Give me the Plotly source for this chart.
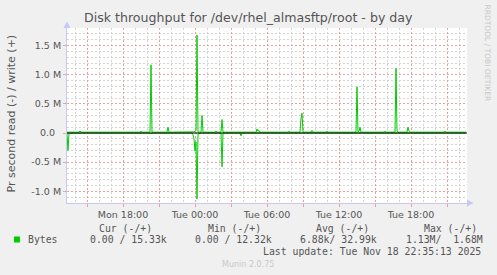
import plotly.graph_objects as go

# ---- data (bytes per second) ----
times = [
    "2025-11-17 13:20", "2025-11-17 13:25", "2025-11-17 13:30",
    "2025-11-17 14:20", "2025-11-17 14:25", "2025-11-17 14:30",
    "2025-11-17 19:25", "2025-11-17 19:30", "2025-11-17 19:35",
    "2025-11-17 20:15", "2025-11-17 20:20", "2025-11-17 20:25",
    "2025-11-17 21:40", "2025-11-17 21:45", "2025-11-17 21:50",
    "2025-11-17 23:45", "2025-11-17 23:50", "2025-11-17 23:55",
    "2025-11-18 00:00", "2025-11-18 00:05", "2025-11-18 00:10", "2025-11-18 00:15",
    "2025-11-18 00:30", "2025-11-18 00:35", "2025-11-18 00:40",
    "2025-11-18 01:40", "2025-11-18 01:45", "2025-11-18 01:50",
    "2025-11-18 02:10", "2025-11-18 02:15", "2025-11-18 02:20",
    "2025-11-18 03:45", "2025-11-18 03:50", "2025-11-18 03:55",
    "2025-11-18 05:05", "2025-11-18 05:10", "2025-11-18 05:15", "2025-11-18 05:20", "2025-11-18 05:25",
    "2025-11-18 07:45", "2025-11-18 07:50", "2025-11-18 07:55",
    "2025-11-18 08:45", "2025-11-18 08:50", "2025-11-18 08:55", "2025-11-18 09:00",
    "2025-11-18 09:40", "2025-11-18 09:45", "2025-11-18 09:50",
    "2025-11-18 10:55", "2025-11-18 11:00", "2025-11-18 11:05",
    "2025-11-18 13:25", "2025-11-18 13:30", "2025-11-18 13:35", "2025-11-18 13:40",
    "2025-11-18 13:45", "2025-11-18 13:50",
    "2025-11-18 15:45", "2025-11-18 15:50", "2025-11-18 15:55",
    "2025-11-18 16:40", "2025-11-18 16:45", "2025-11-18 16:50", "2025-11-18 16:55",
    "2025-11-18 17:40", "2025-11-18 17:45", "2025-11-18 17:50", "2025-11-18 17:55",
    "2025-11-18 20:45", "2025-11-18 20:50", "2025-11-18 20:55",
    "2025-11-18 22:35",
]
write_bytes = [
    15e3, 15e3, 15e3,
    15e3, 35e3, 15e3,
    15e3, 30e3, 15e3,
    15e3, 1.17e6, 15e3,
    15e3, 100e3, 15e3,
    15e3, 15e3, 20e3,
    30e3, 40e3, 1.68e6, 15e3,
    15e3, 300e3, 15e3,
    15e3, 30e3, 15e3,
    15e3, 230e3, 15e3,
    15e3, 15e3, 15e3,
    15e3, 70e3, 30e3, 45e3, 15e3,
    15e3, 30e3, 15e3,
    15e3, 250e3, 340e3, 15e3,
    15e3, 45e3, 15e3,
    15e3, 30e3, 15e3,
    15e3, 790e3, 20e3, 30e3,
    100e3, 15e3,
    15e3, 30e3, 15e3,
    15e3, 1.11e6, 30e3, 15e3,
    15e3, 100e3, 30e3, 15e3,
    15e3, 30e3, 15e3,
    15e3,
]
read_bytes = [
    5e3, 300e3, 5e3,
    0, 0, 0,
    0, 0, 0,
    0, 15e3, 0,
    0, 0, 0,
    0, 30e3, 100e3,
    310e3, 150e3, 1.13e6, 20e3,
    0, 0, 0,
    0, 0, 0,
    0, 580e3, 0,
    0, 50e3, 0,
    0, 0, 0, 0, 0,
    0, 0, 0,
    0, 0, 0, 0,
    0, 0, 0,
    0, 0, 0,
    0, 0, 0, 0,
    0, 0,
    0, 0, 0,
    0, 0, 0, 0,
    0, 0, 0, 0,
    0, 0, 0,
    0,
]

x_tickvals = ["2025-11-17 15:00", "2025-11-17 18:00", "2025-11-17 21:00",
              "2025-11-18 00:00", "2025-11-18 03:00", "2025-11-18 06:00",
              "2025-11-18 09:00", "2025-11-18 12:00", "2025-11-18 15:00",
              "2025-11-18 18:00", "2025-11-18 21:00"]
x_ticktext = ["", "Mon 18:00", "", "Tue 00:00", "", "Tue 06:00", "",
              "Tue 12:00", "", "Tue 18:00", ""]
y_tickvals = [-1.0e6, -0.5e6, 0, 0.5e6, 1.0e6, 1.5e6]
y_ticktext = ["-1.0 M", "-0.5 M", "0.0\u00a0\u00a0", "0.5 M", "1.0 M", "1.5 M"]

title_text = "Disk throughput for /dev/rhel_almasftp/root - by day"
y_title = "Pr second read (-) / write (+)"
series_name = "Bytes"
legend_headers = ["Cur (-/+)", "Min (-/+)", "Avg (-/+)", "Max (-/+)"]
legend_values = ["0.00 / 15.33k", "0.00 / 12.32k", "6.88k/ 32.99k", "1.13M/  1.68M"]
last_update = "Last update: Tue Nov 18 22:35:13 2025"
munin_version = "Munin 2.0.75"
rrd_credit = "RRDTOOL / TOBI OETIKER"

# ---- layout constants (pixels) ----
W, H = 497, 275
L, R, T, B = 67, 467, 28, 203
GREEN = "#00cc00"
TXT = "#555555"
MAJOR = "#eaa0a0"
MINOR = "#d4d4d4"
AXIS = "#c8c8f8"


def px(x):
    return (x - L) / (R - L)


def py(y):
    return (B - y) / (B - T)


def ann(text, x, y, size, color=TXT, family="DejaVu Sans", xanchor="left", angle=0):
    return dict(text=text.replace(" ", "\u00a0"), x=px(x), y=py(y), xref="paper", yref="paper",
                showarrow=False, xanchor=xanchor, yanchor="middle", textangle=angle,
                borderpad=0, font=dict(family=family, size=size, color=color))


fig = go.Figure()
fig.add_trace(go.Scatter(x=times, y=[-v for v in read_bytes], mode="lines",
                         line=dict(color=GREEN, width=1), showlegend=False, hoverinfo="skip"))
fig.add_trace(go.Scatter(x=times, y=write_bytes, mode="lines",
                         line=dict(color=GREEN, width=1), showlegend=False, hoverinfo="skip"))

annotations = [
    ann(title_text, 248, 18, 12.6, xanchor="center"),
    ann(y_title, 11, 113.5, 11, xanchor="center", angle=-90),
    ann(rrd_credit, 487.5, 53, 7.5, color="#c8c8c8", xanchor="center", angle=90),
    ann(series_name, 26.5, 239.5, 9.8, family="DejaVu Sans Mono"),
    ann(last_update, 261.5, 251.5, 9.8, family="DejaVu Sans Mono"),
    ann(munin_version, 248, 264.5, 8, color="#c8c8c8", xanchor="center"),
]
header_x = [98, 206.5, 315, 422.5]
value_x = [89, 194, 299, 405]
for h, hx in zip(legend_headers, header_x):
    annotations.append(ann(h, hx, 228, 9.8, family="DejaVu Sans Mono"))
for v, vx in zip(legend_values, value_x):
    annotations.append(ann(v, vx, 239.5, 9.8, family="DejaVu Sans Mono"))

shapes = [
    # zero rule
    dict(type="line", xref="paper", yref="y", x0=0, x1=1, y0=0, y1=0,
         line=dict(color="black", width=1), layer="above"),
    # legend colour box
    dict(type="rect", xref="paper", yref="paper", x0=px(14), x1=px(20), y0=py(242.5), y1=py(236.5),
         fillcolor=GREEN, line=dict(width=0)),
    # axis arrows
    dict(type="path", xref="paper", yref="paper",
         path=f"M {px(467)} {py(199.5)} L {px(473.5)} {py(203)} L {px(467)} {py(206.5)} Z",
         fillcolor=AXIS, line=dict(width=0)),
    dict(type="path", xref="paper", yref="paper",
         path=f"M {px(63.5)} {py(28)} L {px(67)} {py(21.5)} L {px(70.5)} {py(28)} Z",
         fillcolor=AXIS, line=dict(width=0)),
]

fig.update_layout(
    width=W, height=H, autosize=False,
    margin=dict(l=L, r=W - R, t=T, b=H - B, pad=0),
    paper_bgcolor="#f0f0f0", plot_bgcolor="white",
    showlegend=False,
    annotations=annotations, shapes=shapes,
    xaxis=dict(
        type="date", range=["2025-11-17 13:20", "2025-11-18 22:40"],
        tickmode="array", tickvals=x_tickvals, ticktext=x_ticktext,
        showgrid=True, gridcolor=MAJOR, griddash="2px,2px", gridwidth=1,
        ticks="outside", ticklen=3, tickcolor=MAJOR,
        showline=True, linecolor=AXIS, linewidth=1,
        zeroline=False,
        tickfont=dict(family="DejaVu Sans", size=9.5, color=TXT),
        minor=dict(tick0="2025-11-17 00:00", dtick=3600000, showgrid=True,
                   gridcolor=MINOR, griddash="2px,2px", gridwidth=1),
        fixedrange=True,
    ),
    yaxis=dict(
        range=[-1.2e6, 1.8e6],
        tickmode="array", tickvals=y_tickvals, ticktext=y_ticktext,
        showgrid=True, gridcolor=MAJOR, griddash="2px,2px", gridwidth=1,
        ticks="outside", ticklen=3, tickcolor=MAJOR,
        showline=True, linecolor=AXIS, linewidth=1,
        zeroline=False,
        tickfont=dict(family="DejaVu Sans", size=9.5, color=TXT),
        minor=dict(tick0=0, dtick=1e5, showgrid=True,
                   gridcolor=MINOR, griddash="2px,2px", gridwidth=1),
        fixedrange=True,
    ),
)

fig.write_html("out.html", config={"displayModeBar": False})
